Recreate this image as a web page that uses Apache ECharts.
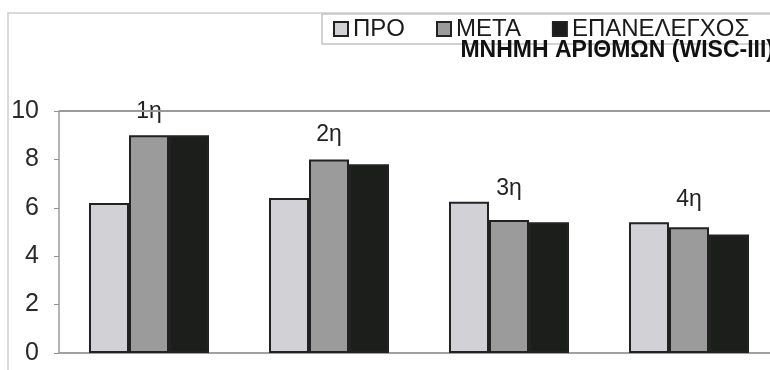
<!DOCTYPE html>
<html>
<head>
<meta charset="utf-8">
<script src="https://cdn.jsdelivr.net/npm/echarts@6/dist/echarts.min.js"></script>
<style>
  html, body { margin: 0; padding: 0; background: #ffffff; }
  #chart { width: 770px; height: 370px; }
</style>
</head>
<body>
<div id="chart"></div>
<script>
// Test sessions and mean scores per measurement
const categories = ['1η', '2η', '3η', '4η'];
const seriesNames = ['ΠΡΟ', 'ΜΕΤΑ', 'ΕΠΑΝΕΛΕΓΧΟΣ'];
const proValues = [6.2, 6.4, 6.25, 5.4];
const metaValues = [9.0, 8.0, 5.5, 5.2];
const epanValues = [9.0, 7.8, 5.4, 4.9];
const yTicks = [0, 2, 4, 6, 8, 10];
const titleText = 'ΜΝΗΜΗ ΑΡΙΘΜΩΝ (WISC-III)';

// Styling
const FONT = '"Liberation Sans", Arial, sans-serif';
const fills = ['#d2d2d6', '#9b9b9b', '#1c1e1c'];
const edge = '#222222';
// how far each session label sits above the middle bar
const labelLift = [12, 13, 20, 16];

const chart = echarts.init(document.getElementById('chart'), null, { renderer: 'canvas' });

function barSeries(idx, values, withLabels) {
  return {
    name: seriesNames[idx],
    type: 'bar',
    barGap: '0%',
    barCategoryGap: '33.33%',
    itemStyle: { color: fills[idx], borderColor: edge, borderWidth: 2 },
    emphasis: { disabled: true },
    label: { show: false },
    data: values.map((v, i) => withLabels ? {
      value: v,
      label: {
        show: true, position: 'top', distance: labelLift[i],
        formatter: categories[i],
        fontFamily: FONT, fontSize: 23, color: '#222222'
      }
    } : v)
  };
}

const series = [
  barSeries(0, proValues, false),
  barSeries(1, metaValues, true),
  barSeries(2, epanValues, false)
];
// top border of the plotting area
series[0].markLine = {
  silent: true, symbol: 'none', label: { show: false },
  lineStyle: { color: '#9a9a9a', width: 2, type: 'solid' },
  data: [{ yAxis: yTicks[yTicks.length - 1] }]
};

chart.setOption({
  animation: false,
  backgroundColor: '#ffffff',
  graphic: [{
    type: 'rect', silent: true, z: -10,
    shape: { x: 8, y: 13, width: 820, height: 420 },
    style: { fill: 'none', stroke: '#cdcdcd', lineWidth: 1.5 }
  }],
  title: {
    text: titleText,
    right: -4, top: 39,
    padding: 0,
    textStyle: { fontFamily: FONT, fontSize: 23, fontWeight: 'bold', color: '#111111' }
  },
  legend: {
    data: seriesNames,
    left: 322, top: 14,
    width: 640,
    orient: 'horizontal',
    padding: [3, 40, 3, 11],
    itemGap: 31,
    itemWidth: 14, itemHeight: 14,
    icon: 'rect',
    borderColor: '#c4c4c4', borderWidth: 1.5,
    backgroundColor: '#ffffff',
    selectedMode: false,
    textStyle: { fontFamily: FONT, fontSize: 24, color: '#1a1a1a' }
  },
  grid: {
    left: 59, top: 111, width: 720, height: 242,
    outerBoundsMode: 'none', containLabel: false
  },
  xAxis: {
    type: 'category',
    data: categories,
    axisLine: { show: true, lineStyle: { color: '#a0a0a0', width: 2 } },
    axisTick: { show: false },
    axisLabel: { show: false },
    splitLine: { show: false }
  },
  yAxis: {
    type: 'value',
    min: yTicks[0], max: yTicks[yTicks.length - 1], interval: 2,
    axisLine: { show: true, lineStyle: { color: '#9a9a9a', width: 1.5 } },
    axisTick: { show: true, inside: false, length: 5, lineStyle: { color: '#909090', width: 1 } },
    axisLabel: { show: true, margin: 20, fontFamily: FONT, fontSize: 25, color: '#2a2a2a' },
    splitLine: { show: false }
  },
  series: series
});
</script>
</body>
</html>
